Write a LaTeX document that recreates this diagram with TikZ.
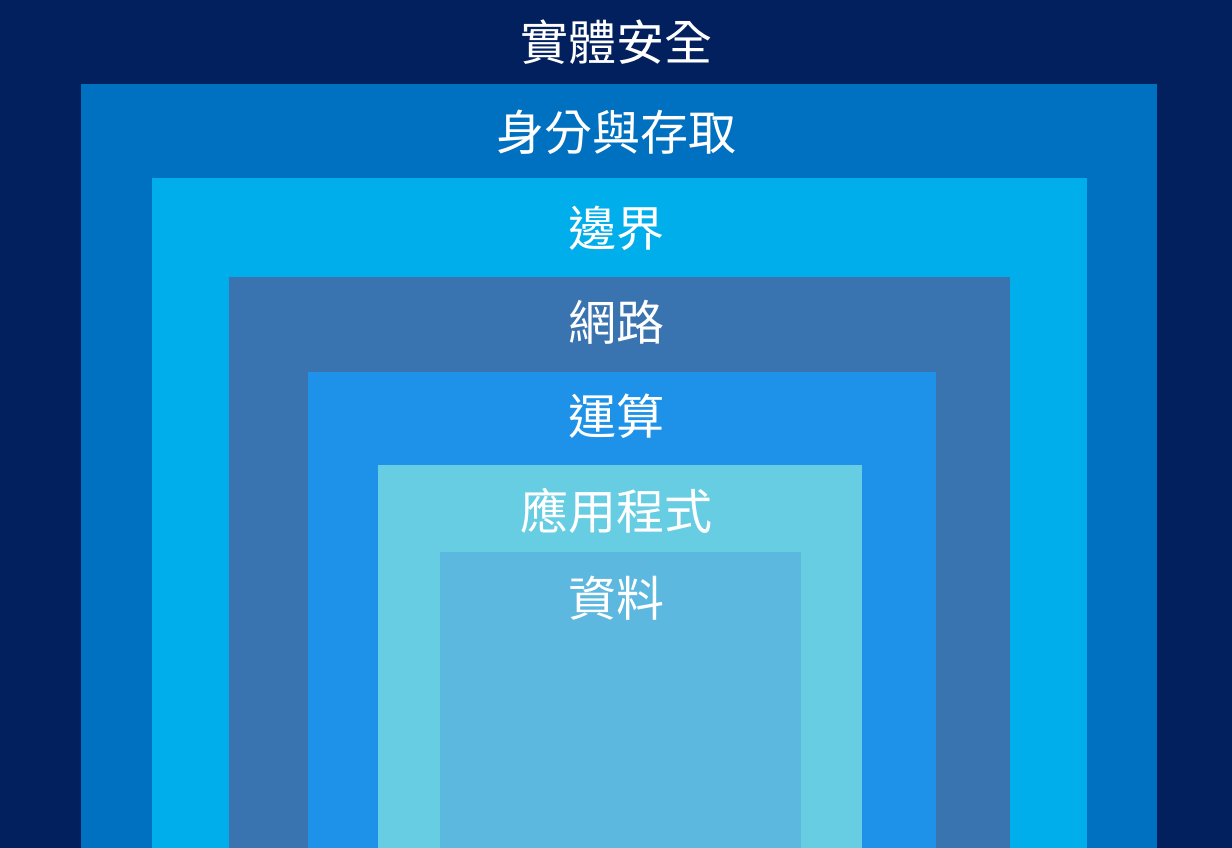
\documentclass[tikz,border=0pt]{standalone}
\usepackage{fontspec}
\newfontfamily\cjk{Noto Sans CJK TC}
\definecolor{navy}{HTML}{02205E}
\definecolor{identity}{HTML}{0070C0}
\definecolor{perimeter}{HTML}{00AEEC}
\definecolor{network}{HTML}{3A74B0}
\definecolor{compute}{HTML}{1E91E8}
\definecolor{application}{HTML}{66CDE2}
\definecolor{data}{HTML}{5DB8E0}
\begin{document}
\begin{tikzpicture}[x=1pt,y=-1pt]
  \tikzset{layer/.style={text=white, font=\cjk\fontsize{48}{54}\selectfont}}
  \useasboundingbox (0,0) rectangle (1232,848);
  \fill[navy] (0,0) rectangle (1232,848);
  \fill[identity] (81,84) rectangle (1157,848);
  \fill[perimeter] (152,178) rectangle (1087,848);
  \fill[network] (229,277) rectangle (1010,848);
  \fill[compute] (308,372) rectangle (936,848);
  \fill[application] (378,465) rectangle (862,848);
  \fill[data] (440,552) rectangle (801,848);
  \node[layer] (physical) at (616,42) {實體安全};
  \node[layer] (access) at (616,132) {身分與存取};
  \node[layer] (edge) at (616,228) {邊界};
  \node[layer] (net) at (616,322) {網路};
  \node[layer] (comp) at (616,416) {運算};
  \node[layer] (app) at (616,511) {應用程式};
  \node[layer] (dat) at (616,598) {資料};
\end{tikzpicture}
\end{document}
